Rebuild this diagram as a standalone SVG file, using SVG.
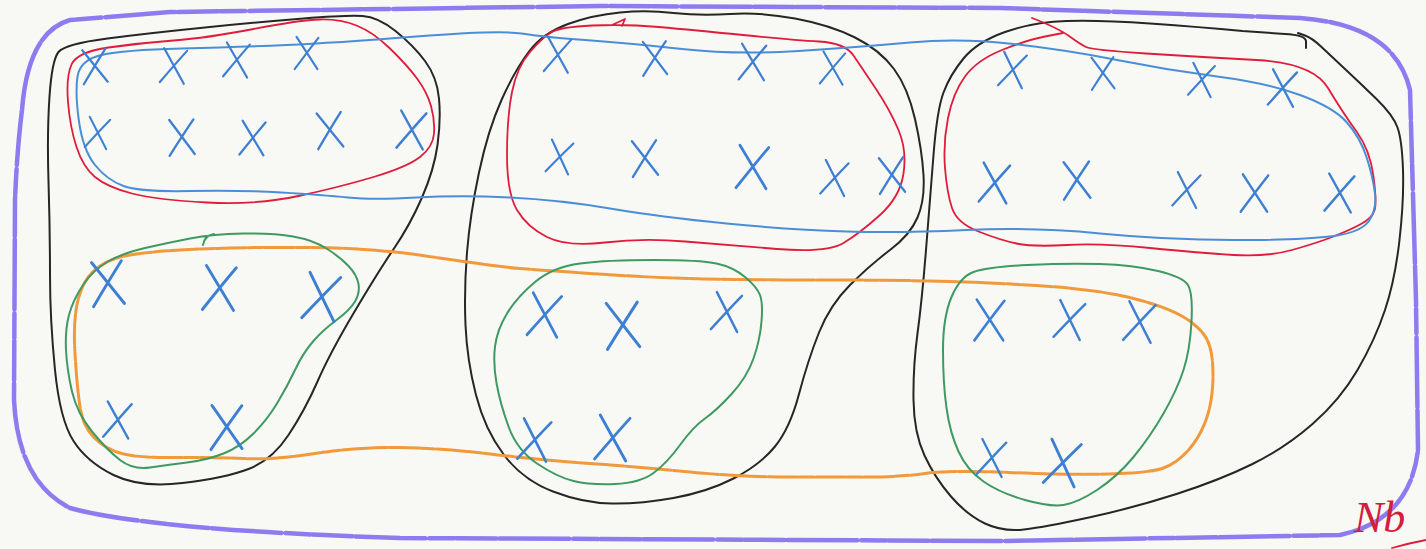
<svg xmlns="http://www.w3.org/2000/svg" xmlns:xlink="http://www.w3.org/1999/xlink" width="1426" height="549" viewBox="0 0 1426 549">
<style>
.ln{fill:none;stroke-linecap:round;stroke-linejoin:round}
.blk{stroke:#262626;stroke-width:2}
.red{stroke:#e01c3c;stroke-width:1.8}
.blu{stroke:#4b8ed8;stroke-width:2}
.grn{stroke:#3e9a62;stroke-width:2}
.org{stroke:#f09a3c;stroke-width:3;stroke-dasharray:30 2 14 1.5}
.pur{stroke:#8c7cf0;stroke-width:4.5;stroke-dasharray:70 3 40 2 25 4}
.x{fill:none;stroke:#3d7fd2;stroke-width:2.2;stroke-linecap:round}
.sig{font-family:"Liberation Serif",serif;font-style:italic;font-size:44px;fill:#d21e3c}
</style>
<defs>
<path id="x" d="M-11,-17 Q-2,-3 11,17 M12,-16 Q1,-2 -13,17"/>
</defs>
<rect width="1426" height="549" fill="#f8f8f4"/>
<g id="border">
<path class="ln pur" d="M22,110 Q28,32 70,20 L170,12 L600,6 L1000,8 L1300,18 Q1395,25 1410,90 L1416,300 L1418,450 Q1410,520 1340,535 L1000,541 L400,538 Q150,530 70,508 Q18,482 14,400 L15,200 Q17,150 22,110 Z"/>
</g>
<g id="blocks">
<path id="block-left" class="ln blk" d="M58.5,52 Q65,44 107.5,38.5 Q150,33 205,27.5 Q260,22 303.5,18.5 Q347,15 362.5,16 Q378,17 395.5,31 Q413,45 425,61 Q437,77 439,98.5 Q441,120 437.5,145 Q434,170 422,197.5 Q410,225 394,248.5 Q378,272 354,312.5 Q330,353 317.5,381.5 Q305,410 288.5,435 Q272,460 248.5,469 Q225,478 182.5,483 Q140,488 113.5,475 Q87,462 73.5,441 Q60,420 55,370 Q50,320 50,275 Q50,230 48.5,181.5 Q47,133 49.5,96.5 Q52,60 58.5,52 Z"/>
<path id="block-middle" class="ln blk" d="M501.5,100 Q515,70 529,51.5 Q543,33 568,24 Q593,15 620,12.5 Q647,10 673.5,13 Q700,16 730,14 Q760,12 795,18.5 Q830,25 855,37.5 Q880,50 894,69 Q908,88 915,119 Q922,150 923.5,175 Q925,200 917.5,217.5 Q910,235 890,250 Q870,265 850,285 Q830,305 819,332.5 Q808,360 799,394 Q790,428 775,446.5 Q760,465 733.5,478.5 Q707,492 673.5,498 Q640,504 611.5,503.5 Q583,503 553,491.5 Q523,480 504,455 Q485,430 476,395 Q467,360 465.5,325 Q464,290 467,252.5 Q470,215 479,172.5 Q488,130 501.5,100 Z"/>
<path id="block-right" class="ln blk" d="M1306,48 L1306,41 Q1305,35 1285,34 L1242.5,31 Q1200,27 1150,23.5 Q1100,20 1066.5,21 Q1033,22 1005,32 Q977,42 963.5,58.5 Q950,75 943.5,92.5 Q937,110 933.5,155 Q930,200 926,250 Q922,300 917.5,333.5 Q913,367 913.5,400 Q914,433 924.5,455.5 Q935,478 951,496.5 Q967,515 985,523.5 Q1003,532 1024,529.5 Q1045,527 1089,517.5 Q1133,508 1176.5,494 Q1220,480 1252.5,464 Q1285,448 1312.5,424 Q1340,400 1357.5,370 Q1375,340 1385,310 Q1395,280 1399.5,240 Q1404,200 1403,170 Q1402,140 1397.5,127.5 Q1393,115 1376.5,99 Q1360,83 1345,69 Q1330,55 1321,46.5 Q1312,38 1305,35.5 L1298,33"/>
</g>
<g id="red-sets">
<path id="red-left" class="ln red" d="M71.5,64.5 Q77,52 108.5,47.5 Q140,43 173.5,40.5 Q207,38 253.5,29 Q300,20 320,19.5 Q340,19 356.5,25.5 Q373,32 390,48.5 Q407,65 417,78.5 Q427,92 431,106 Q435,120 434,133.5 Q433,147 420,157 Q407,167 373.5,177 Q340,187 298.5,196 Q257,205 207,202.5 Q157,200 132,193.5 Q107,187 95,177 Q83,167 76.5,147 Q70,127 68,102 Q66,77 71.5,64.5 Z"/>
<path id="red-middle" class="ln red" d="M551.5,32 Q543,37 530,52 Q517,67 512,92 Q507,117 507,155 Q507,193 517,210 Q527,227 547,237 Q567,247 605,242.5 Q643,238 685,241.5 Q727,245 777,249 Q827,253 843.5,243 Q860,233 880,215 Q900,197 903.5,173.5 Q907,150 898.5,130 Q890,110 876,89 Q862,68 853.5,55.5 Q845,43 819,41.5 Q793,40 743,35 Q693,30 659,27 Q625,24 592.5,25.5 Q560,27 551.5,32 Z M612,25 L625,19 L622,26"/>
<path id="red-right" class="ln red" d="M1032,18 Q1058,28 1069,36 Q1080,44 1086,47 Q1092,50 1146,53.5 Q1200,57 1256.5,60 Q1313,63 1328,88 Q1343,113 1356.5,131.5 Q1370,150 1373.5,176.5 Q1377,203 1374.5,210.5 Q1372,218 1361,224 Q1350,230 1333.5,236.5 Q1317,243 1292,250 Q1267,257 1233.5,255 Q1200,253 1150,248 Q1100,243 1066.5,245 Q1033,247 1016.5,243.5 Q1000,240 978.5,231.5 Q957,223 952,208 Q947,193 945,168 Q943,143 948,118 Q953,93 965,76.5 Q977,60 1002,50 Q1027,40 1045,36.5 L1063,33"/>
</g>
<g id="blue-set">
<path class="ln blu" d="M77.5,76.5 Q80,60 101.5,55 Q123,50 181.5,48.5 Q240,47 286.5,45 Q333,43 416.5,36.5 Q500,30 521.5,33.5 Q543,37 585,40 Q627,43 682,49 Q737,55 798.5,51 Q860,47 910,42.5 Q960,38 1013.5,44 Q1067,50 1117,60 Q1167,70 1217,76.5 Q1267,83 1300,95 Q1333,107 1346.5,122 Q1360,137 1366.5,157 Q1373,177 1375,193.5 Q1377,210 1368.5,221.5 Q1360,233 1330,236.5 Q1300,240 1233.5,240 Q1167,240 1100,233.5 Q1033,227 966.5,230 Q900,233 846.5,231.5 Q793,230 726.5,223.5 Q660,217 610,208.5 Q560,200 510,197.5 Q460,195 416.5,197.5 Q373,200 348,197.5 Q323,195 281.5,192.5 Q240,190 190,191 Q140,192 123.5,186 Q107,180 95,165 Q83,150 79,121.5 Q75,93 77.5,76.5 Z"/>
</g>
<g id="orange-set">
<path class="ln org" d="M122,256.5 Q137,253 172,250.5 Q207,248 265,247.5 Q323,247 348,248.5 Q373,250 390,251.5 Q407,253 453.5,260 Q500,267 520,268.5 Q540,270 590,273.5 Q640,277 690,278.5 Q740,280 820,280 Q900,280 950,281.5 Q1000,283 1050,286.5 Q1100,290 1133.5,298.5 Q1167,307 1183.5,317 Q1200,327 1206.5,338.5 Q1213,350 1213,375 Q1213,400 1206.5,418.5 Q1200,437 1188.5,450 Q1177,463 1163.5,468 Q1150,473 1108.5,474 Q1067,475 1008.5,472.5 Q950,470 925,473.5 Q900,477 870,477 Q840,477 790,477 Q740,477 690,472 Q640,467 590,463.5 Q540,460 490,454 Q440,448 398.5,447.5 Q357,447 315,453.5 Q273,460 243,458.5 Q213,457 176.5,457.5 Q140,458 123.5,454 Q107,450 95,438.5 Q83,427 80,407 Q77,387 75,353.5 Q73,320 78,300 Q83,280 95,270 Q107,260 122,256.5 Z"/>
</g>
<g id="green-sets">
<path id="green-left" class="ln grn" d="M190,238.5 Q213,234 243,233.5 Q273,233 293,236.5 Q313,240 326.5,248.5 Q340,257 348.5,266 Q357,275 358.5,284 Q360,293 355,301.5 Q350,310 336.5,320 Q323,330 313,341.5 Q303,353 295,370 Q287,387 277,403.5 Q267,420 253.5,433.5 Q240,447 223.5,453.5 Q207,460 187,462.5 Q167,465 150,467.5 Q133,470 120,460 Q107,450 92,431.5 Q77,413 72,391.5 Q67,370 66,350 Q65,330 69,315 Q73,300 83,285 Q93,270 108,261.5 Q123,253 145,248 Q167,243 190,238.5 Z M203,245 Q204,236 214,234"/>
<path id="green-middle" class="ln grn" d="M535,282 Q553,267 580,263.5 Q607,260 653.5,260 Q700,260 716.5,263.5 Q733,267 745,277 Q757,287 760,295 Q763,303 761.5,321.5 Q760,340 753.5,358.5 Q747,377 732,393.5 Q717,410 705,418.5 Q693,427 680,445 Q667,463 653.5,473 Q640,483 615,484 Q590,485 573.5,481 Q557,477 537,463.5 Q517,450 508.5,426.5 Q500,403 496.5,383 Q493,363 495,346.5 Q497,330 507,313.5 Q517,297 535,282 Z"/>
<path id="green-right" class="ln grn" d="M973.5,272 Q987,267 1027,265 Q1067,263 1100,264 Q1133,265 1158,271 Q1183,277 1188,285 Q1193,293 1191.5,321.5 Q1190,350 1183.5,370 Q1177,390 1163.5,413.5 Q1150,437 1133.5,457 Q1117,477 1097,490 Q1077,503 1063.5,505 Q1050,507 1025,500 Q1000,493 983.5,481.5 Q967,470 958.5,451.5 Q950,433 946.5,408 Q943,383 943,350 Q943,317 951.5,297 Q960,277 973.5,272 Z"/>
</g>
<g id="elements" class="x">
<use href="#x" transform="translate(95,66) rotate(-6)"/>
<use href="#x" transform="translate(174,66) rotate(4)"/>
<use href="#x" transform="translate(237,60) rotate(3)"/>
<use href="#x" transform="translate(307,53) scale(0.95)"/>
<use href="#x" transform="translate(98,133) rotate(6) scale(0.9)"/>
<use href="#x" transform="translate(182,137) rotate(-4) scale(1.05)"/>
<use href="#x" transform="translate(253,138) rotate(2)"/>
<use href="#x" transform="translate(330,130) rotate(-6) scale(1.05)"/>
<use href="#x" transform="translate(412,130) rotate(4) scale(1.1)"/>
<use href="#x" transform="translate(558,55) rotate(4)"/>
<use href="#x" transform="translate(655,58) rotate(-4)"/>
<use href="#x" transform="translate(753,62) rotate(2) scale(1.05)"/>
<use href="#x" transform="translate(833,68) rotate(3) scale(0.95)"/>
<use href="#x" transform="translate(560,157) rotate(8) scale(0.95)"/>
<use href="#x" transform="translate(645,158) rotate(-5) scale(1.05)"/>
<use href="#x" transform="translate(753,167) rotate(2) scale(1.25)"/>
<use href="#x" transform="translate(835,178) rotate(6)"/>
<use href="#x" transform="translate(892,175) rotate(-5) scale(1.05)"/>
<use href="#x" transform="translate(1013,70) rotate(7)"/>
<use href="#x" transform="translate(1103,73) rotate(-4) scale(0.95)"/>
<use href="#x" transform="translate(1202,80) rotate(6) scale(0.95)"/>
<use href="#x" transform="translate(1283,88) rotate(5) scale(1.05)"/>
<use href="#x" transform="translate(995,183) rotate(4) scale(1.15)"/>
<use href="#x" transform="translate(1077,180) rotate(-4) scale(1.1)"/>
<use href="#x" transform="translate(1187,190) rotate(6)"/>
<use href="#x" transform="translate(1255,193) scale(1.1)"/>
<use href="#x" transform="translate(1340,193) rotate(4) scale(1.1)"/>
<use href="#x" transform="translate(108,283) rotate(-6) scale(1.3)"/>
<use href="#x" transform="translate(220,288) rotate(2) scale(1.3)"/>
<use href="#x" transform="translate(322,297) rotate(7) scale(1.35)"/>
<use href="#x" transform="translate(118,420) rotate(4) scale(1.05)"/>
<use href="#x" transform="translate(227,427) rotate(-2) scale(1.3)"/>
<use href="#x" transform="translate(545,315) rotate(5) scale(1.25)"/>
<use href="#x" transform="translate(623,325) rotate(-5) scale(1.35)"/>
<use href="#x" transform="translate(727,312) rotate(6) scale(1.1)"/>
<use href="#x" transform="translate(535,440) rotate(6) scale(1.2)"/>
<use href="#x" transform="translate(613,438) rotate(4) scale(1.3)"/>
<use href="#x" transform="translate(990,320) scale(1.2)"/>
<use href="#x" transform="translate(1070,320) rotate(7) scale(1.1)"/>
<use href="#x" transform="translate(1140,322) rotate(6) scale(1.15)"/>
<use href="#x" transform="translate(992,458) rotate(6) scale(1.05)"/>
<use href="#x" transform="translate(1063,463) rotate(8) scale(1.3)"/>
</g>
<g id="signature">
<text class="sig" x="1354" y="532">Nb</text>
<path class="ln red" d="M1392,548 Q1410,543 1426,540"/>
</g>
</svg>
